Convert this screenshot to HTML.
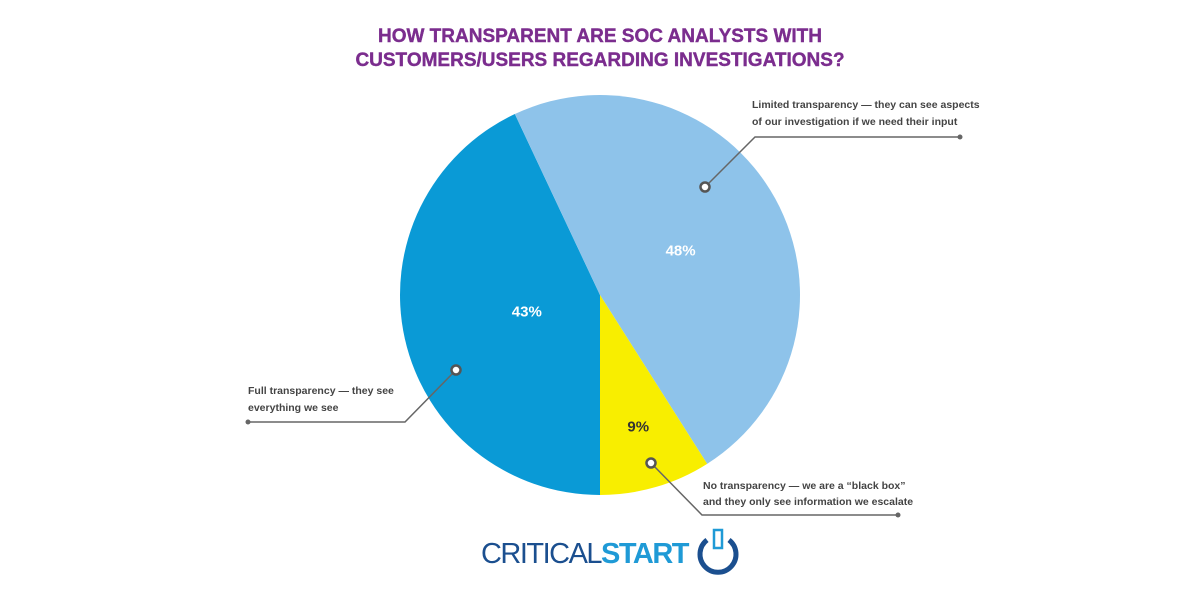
<!DOCTYPE html>
<html><head><meta charset="utf-8"><style>
body{margin:0;background:#fff;width:1199px;height:600px;overflow:hidden;font-family:"Liberation Sans",sans-serif}
</style></head><body>
<svg width="1199" height="600">
<text x="600" y="42" text-anchor="middle" font-weight="bold" font-size="19" fill="#7b2d8e" stroke="#7b2d8e" stroke-width="0.4">HOW TRANSPARENT ARE SOC ANALYSTS WITH</text>
<text x="600" y="66" text-anchor="middle" font-weight="bold" font-size="19" fill="#7b2d8e" stroke="#7b2d8e" stroke-width="0.4">CUSTOMERS/USERS REGARDING INVESTIGATIONS?</text>
<g id="slices"></g>
<g id="labels" font-weight="bold" font-size="15" fill="#fff" text-anchor="middle"></g>
<g stroke="#666" stroke-width="1.5" fill="none">
<polyline points="705,187 755,137 960,137"/>
<polyline points="456,370 405,422 248,422"/>
<polyline points="651,463 702,515 898,515"/>
</g>
<g fill="#666"><circle cx="960" cy="137" r="2.5"/><circle cx="248" cy="422" r="2.5"/><circle cx="898" cy="515" r="2.5"/></g>
<g fill="#fff" stroke="#555" stroke-width="2.5"><circle cx="705" cy="187" r="4.5"/><circle cx="456" cy="370" r="4.5"/><circle cx="651" cy="463" r="4.5"/></g>
<g font-size="10.5" font-weight="bold" fill="#444">
<text x="752" y="108">Limited transparency — they can see aspects</text>
<text x="752" y="125">of our investigation if we need their input</text>
<text x="248" y="394">Full transparency — they see</text>
<text x="248" y="411">everything we see</text>
<text x="703" y="489">No transparency — we are a “black box”</text>
<text x="703" y="505">and they only see information we escalate</text>
</g>
<g>
<text x="481" y="563" font-size="29" fill="#1b4f8f" letter-spacing="-1.5" textLength="207" lengthAdjust="spacingAndGlyphs">CRITICAL<tspan font-weight="bold" fill="#1f9ad6">START</tspan></text>
<path d="M 707 540 A 18 18 0 1 0 729 540" stroke="#1b4f8f" stroke-width="5" fill="none"/>
<rect x="714" y="530" width="8" height="18" fill="none" stroke="#1f9ad6" stroke-width="2.5"/>
</g>
</svg>
<script>
const categories=["Full transparency","Limited transparency","No transparency"];
const values=[43,48,9];
const colors=["#0a9ad6","#8ec3ea","#f8ee00"];
const labelRadius=[75,92,137];
const cx=600,cy=295,r=200;
const total=values.reduce((a,b)=>a+b,0);
const ns="http://www.w3.org/2000/svg";
const gs=document.getElementById("slices"),gl=document.getElementById("labels");
function pt(a,rr){return [cx+rr*Math.sin(a),cy-rr*Math.cos(a)];}
let start=Math.PI;
values.forEach((v,i)=>{
  const sweep=v/total*2*Math.PI,end=start+sweep;
  const [x1,y1]=pt(start,r),[x2,y2]=pt(end,r);
  const p=document.createElementNS(ns,"path");
  p.setAttribute("d",`M${cx},${cy} L${x1},${y1} A${r},${r} 0 ${sweep>Math.PI?1:0} 1 ${x2},${y2} Z`);
  p.setAttribute("fill",colors[i]);
  
  
  gs.appendChild(p);
  const mid=start+sweep/2;
  const [lx,ly]=pt(mid,labelRadius[i]);
  const t=document.createElementNS(ns,"text");
  t.setAttribute("x",lx);t.setAttribute("y",ly+5);
  if(v<15)t.setAttribute("fill","#333");
  t.textContent=v+"%";
  
  
  gl.appendChild(t);
  start=end;
});
</script>
</body></html>
